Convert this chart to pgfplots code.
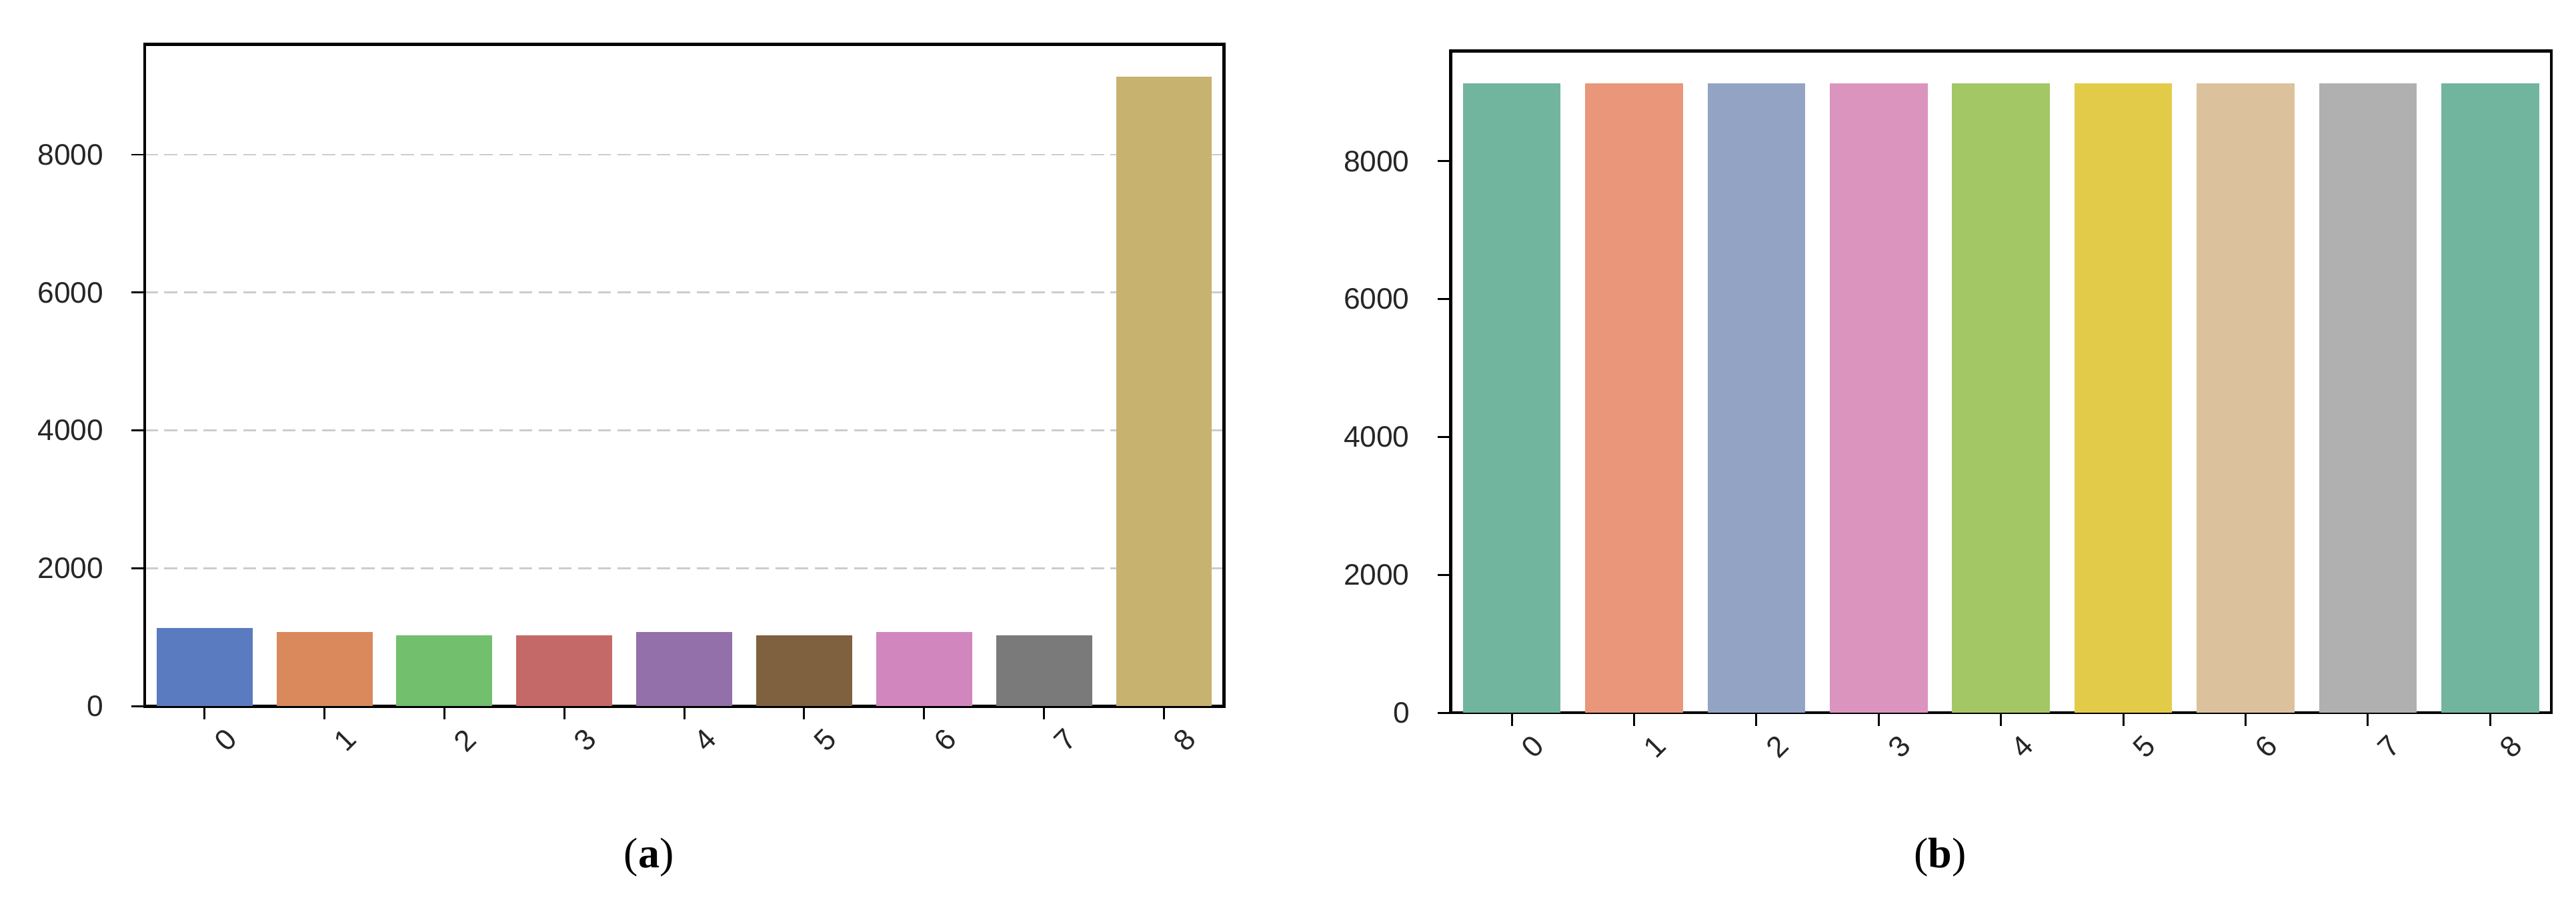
\documentclass[border=0pt]{standalone}
\usepackage{pgfplots}
\pgfplotsset{compat=1.18}
\usepackage{fontspec}
\setmainfont{Liberation Serif}
\newfontfamily\tickfont{Liberation Sans}

% seaborn "muted" (left) and "Set2" (right), as they appear in the picture
\definecolor{ma}{HTML}{5A7BC0}
\definecolor{mb}{HTML}{D9895C}
\definecolor{mc}{HTML}{72BF6E}
\definecolor{md}{HTML}{C56868}
\definecolor{me}{HTML}{9370AA}
\definecolor{mf}{HTML}{80613F}
\definecolor{mg}{HTML}{D187BD}
\definecolor{mh}{HTML}{7A7A7A}
\definecolor{mi}{HTML}{C8B26F}
\definecolor{sa}{HTML}{72B59F}
\definecolor{sb}{HTML}{E9967A}
\definecolor{sc}{HTML}{93A3C3}
\definecolor{sd}{HTML}{DB94BE}
\definecolor{se}{HTML}{A2C764}
\definecolor{sf}{HTML}{E3CB4A}
\definecolor{sg}{HTML}{DBC19C}
\definecolor{sh}{HTML}{B0B0B0}

\pgfplotsset{
  countbars/.style={
    scale only axis,
    height=201.5pt,
    xmin=-0.5, xmax=8.5,
    ymin=0, ymax=9600,
    xtick={0,...,8},
    ytick={0,2000,4000,6000,8000},
    axis line style={black, line width=0.9pt},
    tick style={black, line width=0.6pt},
    tick align=outside,
    major tick length=4pt,
    xtick pos=bottom, ytick pos=left,
    /pgf/number format/assume math mode=true,
    /pgf/number format/set thousands separator={},
    tick label style={font=\tickfont\fontsize{9}{10}\selectfont, color=black!85},
    xticklabel style={rotate=45, anchor=center, yshift=-9pt},
    yticklabel style={xshift=-5pt},
  },
}
\tikzset{cbar/.style={ybar, bar width=0.8, bar shift=0pt, draw=none, fill=#1}}

\begin{document}
\begin{tikzpicture}
\useasboundingbox (0,0) rectangle (784pt,277.5pt);

\begin{axis}[countbars, at={(44pt,62.5pt)}, anchor=south west, width=328.5pt,
  ymajorgrids, grid style={gray!40, line width=0.6pt, dash pattern=on 4pt off 2pt}]
\addplot[cbar=ma] coordinates {(0,1130)};
\addplot[cbar=mb] coordinates {(1,1080)};
\addplot[cbar=mc] coordinates {(2,1030)};
\addplot[cbar=md] coordinates {(3,1030)};
\addplot[cbar=me] coordinates {(4,1080)};
\addplot[cbar=mf] coordinates {(5,1030)};
\addplot[cbar=mg] coordinates {(6,1080)};
\addplot[cbar=mh] coordinates {(7,1030)};
\addplot[cbar=mi] coordinates {(8,9130)};
\end{axis}

\begin{axis}[countbars, at={(441.5pt,60.5pt)}, anchor=south west, width=335pt]
\addplot[cbar=sa] coordinates {(0,9130)};
\addplot[cbar=sb] coordinates {(1,9130)};
\addplot[cbar=sc] coordinates {(2,9130)};
\addplot[cbar=sd] coordinates {(3,9130)};
\addplot[cbar=se] coordinates {(4,9130)};
\addplot[cbar=sf] coordinates {(5,9130)};
\addplot[cbar=sg] coordinates {(6,9130)};
\addplot[cbar=sh] coordinates {(7,9130)};
\addplot[cbar=sa] coordinates {(8,9130)};
\end{axis}

\node[font=\fontsize{13}{15}\selectfont] at (197.5pt,16.5pt) {(\textbf{a})};
\node[font=\fontsize{13}{15}\selectfont] at (590.5pt,16.5pt) {(\textbf{b})};
\end{tikzpicture}
\end{document}
